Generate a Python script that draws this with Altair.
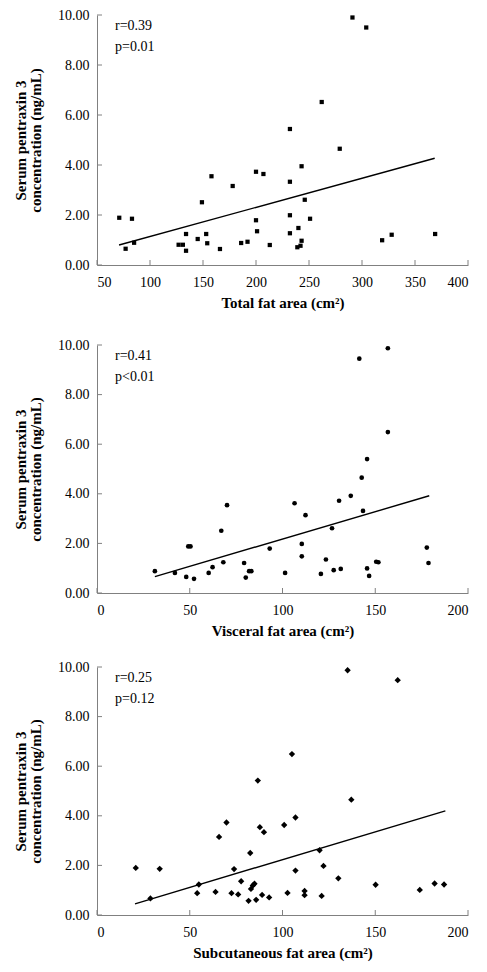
import altair as alt
import pandas as pd

# ---- data ----
total_x = [71, 77, 83, 85, 127, 131, 134, 134, 145, 149, 153, 154, 158, 166, 178, 186, 192, 200, 200, 201,
           207, 213, 232, 232, 232, 232, 239, 240, 242, 243, 243, 246, 251, 262, 279, 291, 304, 319, 328, 369]
total_y = [1.89, 0.65, 1.85, 0.89, 0.81, 0.81, 1.24, 0.57, 1.04, 2.51, 1.24, 0.87, 3.55, 0.64, 3.16, 0.88, 0.93, 3.73, 1.79, 1.35,
           3.64, 0.80, 5.44, 3.33, 1.99, 1.27, 0.71, 1.48, 0.77, 3.95, 0.97, 2.61, 1.85, 6.52, 4.65, 9.90, 9.50, 0.99, 1.21, 1.24]
total_line_x = [70.8, 368.6]
total_line_y = [0.80, 4.27]

visc_x = [31.2, 42, 48.1, 49.2, 50.4, 52.3, 60.2, 62.3, 67, 68.1, 70.1, 79.3, 80.2, 82, 83.2, 93.1, 101.4, 106.5, 110.4, 110.4,
          112.4, 120.7, 123.4, 126.7, 127.6, 130.5, 131.4, 136.8, 141.4, 142.7, 143.4, 145.6, 145.6, 146.7, 150.5, 151.7, 156.8, 156.8, 177.8, 178.7]
visc_y = [0.88, 0.81, 0.65, 1.88, 1.88, 0.57, 0.81, 1.04, 2.51, 1.24, 3.54, 1.21, 0.62, 0.88, 0.88, 1.79, 0.81, 3.62, 1.98, 1.48,
          3.14, 0.77, 1.35, 2.61, 0.92, 3.72, 0.97, 3.92, 9.45, 4.65, 3.31, 5.40, 0.99, 0.69, 1.26, 1.24, 9.87, 6.49, 1.83, 1.21]
visc_line_x = [31.2, 179.1]
visc_line_y = [0.66, 3.92]

subq_x = [20.9, 28.8, 33.8, 54, 54.9, 63.9, 65.8, 69.8, 72.5, 73.9, 76.1, 77.7, 81.7, 82.6, 83, 84, 84.9, 85.8, 86.7, 87.8,
          89, 90, 92.8, 100.9, 102.7, 105.1, 107, 107, 111.9, 111.9, 120, 121.1, 122.1, 130.1, 135.1, 137.1, 150.2, 162.1, 174, 182, 187.1]
subq_y = [1.90, 0.67, 1.86, 0.88, 1.23, 0.93, 3.15, 3.73, 0.88, 1.85, 0.83, 1.36, 0.57, 2.50, 1.05, 1.19, 1.26, 0.61, 5.42, 3.54,
          0.81, 3.34, 0.71, 3.63, 0.89, 6.49, 3.93, 1.79, 0.97, 0.80, 2.61, 0.77, 1.98, 1.48, 9.87, 4.65, 1.22, 9.47, 1.01, 1.27, 1.23]
subq_line_x = [20.5, 187.8]
subq_line_y = [0.45, 4.20]

total_ticks = [50, 100, 150, 200, 250, 300, 350, 400]
area_ticks = [0, 50, 100, 150, 200]
y_ticks = [0, 2, 4, 6, 8, 10]

y_title = ["Serum pentraxin 3", "concentration (ng/mL)"]

FONT = "Liberation Serif"
GRAY = "#808080"
W = 371


def panel(xs, ys, shape, size, xdom, xticks, xtitle, lx, ly, rtxt, ptxt, H):
    xscale = alt.Scale(domain=xdom, nice=False, zero=False)
    yscale = alt.Scale(domain=[0, 10], nice=False)
    xaxis = alt.Axis(values=xticks, format="d", title=xtitle)
    yaxis = alt.Axis(values=y_ticks, format=".2f", title=y_title)
    X = lambda: alt.X("x:Q", scale=xscale, axis=xaxis)
    Y = lambda: alt.Y("y:Q", scale=yscale, axis=yaxis)
    pts = alt.Chart(pd.DataFrame({"x": xs, "y": ys})).mark_point(
        shape=shape, filled=True, color="black", opacity=1, size=size
    ).encode(x=X(), y=Y())
    line = alt.Chart(pd.DataFrame({"x": lx, "y": ly})).mark_line(
        color="black", strokeWidth=1.4
    ).encode(x=X(), y=Y())
    xt = alt.Chart(pd.DataFrame({"x": xticks})).mark_rule(color=GRAY, strokeWidth=1).encode(
        x=X(), y=alt.value(H), y2=alt.value(H - 5))
    yt = alt.Chart(pd.DataFrame({"y": y_ticks})).mark_rule(color=GRAY, strokeWidth=1).encode(
        y=Y(), x=alt.value(0), x2=alt.value(5))
    t1 = alt.Chart(pd.DataFrame({"t": [rtxt]})).mark_text(
        align="left", baseline="middle", font=FONT, fontSize=14, color="black"
    ).encode(text="t:N", x=alt.value(18), y=alt.value(11))
    t2 = alt.Chart(pd.DataFrame({"t": [ptxt]})).mark_text(
        align="left", baseline="middle", font=FONT, fontSize=14, color="black"
    ).encode(text="t:N", x=alt.value(18), y=alt.value(32))
    return alt.layer(pts, line, xt, yt, t1, t2).properties(width=W, height=H)


p1 = panel(total_x, total_y, "square", 18, [50, 400], total_ticks, "Total fat area (cm²)",
           total_line_x, total_line_y, "r=0.39", "p=0.01", 250)
p2 = panel(visc_x, visc_y, "circle", 22, [0, 200], area_ticks, "Visceral fat area (cm²)",
           visc_line_x, visc_line_y, "r=0.41", "p<0.01", 248)
p3 = panel(subq_x, subq_y, "diamond", 40, [0, 200], area_ticks, "Subcutaneous fat area (cm²)",
           subq_line_x, subq_line_y, "r=0.25", "p=0.12", 248)

chart = alt.vconcat(alt.vconcat(p1, p2, spacing=28), p3, spacing=22).properties(
    padding={"left": 5, "top": 0, "right": 5, "bottom": 5}
).configure_view(stroke=None).configure_axis(
    grid=False, ticks=False, domainColor=GRAY, domainWidth=1,
    labelFont=FONT, labelFontSize=14, labelColor="black", labelPadding=8,
    titleFont=FONT, titleFontSize=15, titleFontWeight="bold", titleColor="black",
).configure_axisX(labelPadding=10, titlePadding=6).configure_axisY(titlePadding=14, titleLineHeight=15)

chart.save("out.html", embed_options={"renderer": "svg", "actions": False})
